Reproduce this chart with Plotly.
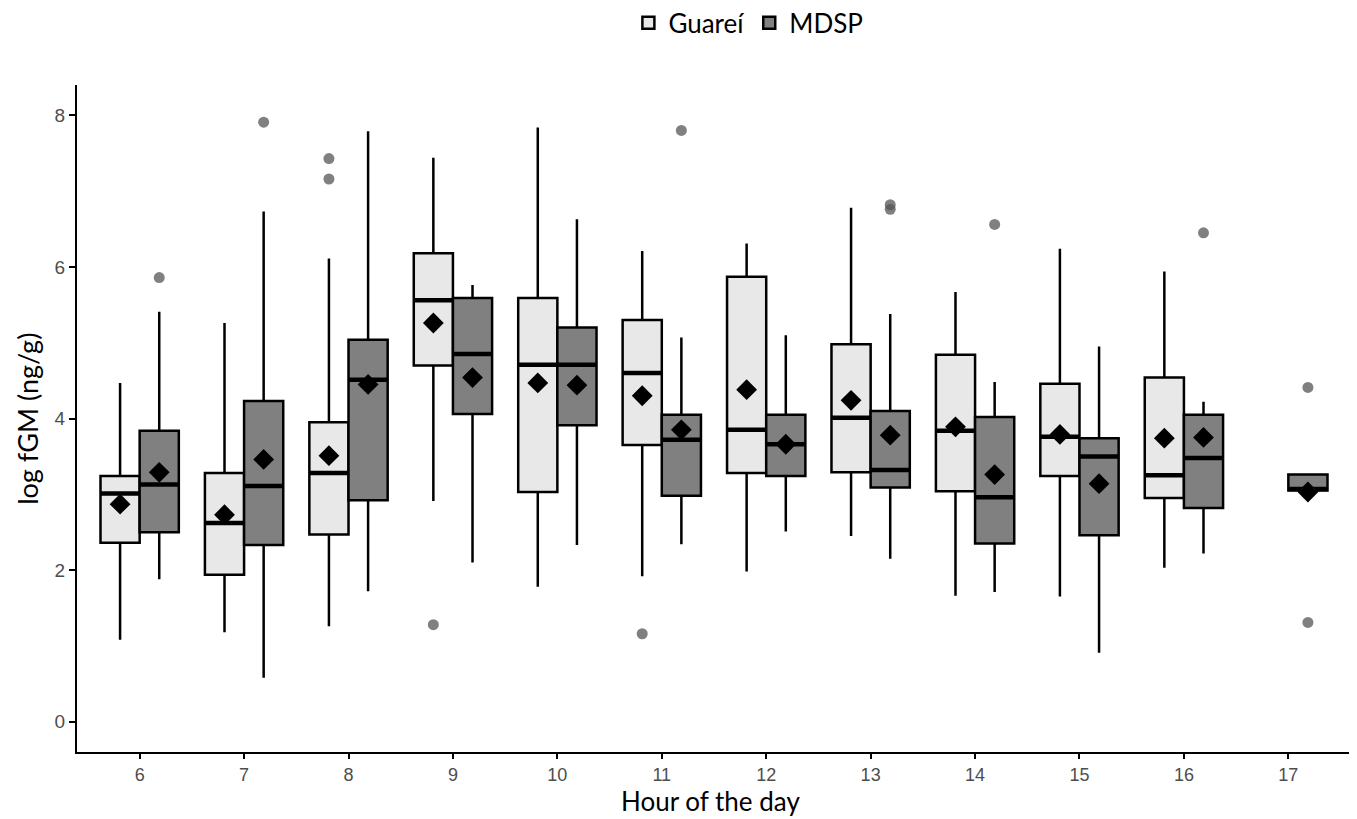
import plotly.graph_objects as go

# ---- data ----
hours_g = [6, 7, 8, 9, 10, 11, 12, 13, 14, 15, 16]
g_low = [1.08, 1.18, 1.26, 2.91, 1.78, 1.92, 1.98, 2.45, 1.66, 1.65, 2.03]
g_q1 = [2.36, 1.94, 2.47, 4.70, 3.03, 3.65, 3.28, 3.29, 3.04, 3.24, 2.95]
g_med = [3.01, 2.62, 3.28, 5.56, 4.71, 4.60, 3.85, 4.01, 3.84, 3.76, 3.25]
g_q3 = [3.24, 3.28, 3.95, 6.18, 5.59, 5.30, 5.87, 4.98, 4.84, 4.46, 4.54]
g_high = [4.47, 5.26, 6.11, 7.44, 7.84, 6.21, 6.31, 6.78, 5.67, 6.24, 5.94]
g_mean = [2.87, 2.73, 3.51, 5.26, 4.47, 4.30, 4.38, 4.24, 3.89, 3.79, 3.74]
g_out_hour = [8, 8, 9, 11]
g_out_val = [7.43, 7.16, 1.28, 1.16]

hours_m = [6, 7, 8, 9, 10, 11, 12, 13, 14, 15, 16, 17]
m_low = [1.88, 0.58, 1.72, 2.10, 2.33, 2.34, 2.51, 2.15, 1.71, 0.91, 2.22, 3.05]
m_q1 = [2.50, 2.33, 2.92, 4.06, 3.91, 2.98, 3.24, 3.09, 2.35, 2.46, 2.82, 3.05]
m_med = [3.13, 3.11, 4.51, 4.85, 4.71, 3.72, 3.66, 3.32, 2.96, 3.50, 3.48, 3.07]
m_q3 = [3.84, 4.23, 5.04, 5.59, 5.20, 4.05, 4.05, 4.10, 4.02, 3.74, 4.05, 3.26]
m_high = [5.41, 6.73, 7.79, 5.76, 6.63, 5.07, 5.10, 5.38, 4.48, 4.95, 4.22, 3.26]
m_mean = [3.29, 3.46, 4.45, 4.54, 4.44, 3.85, 3.66, 3.78, 3.26, 3.14, 3.75, 3.03]
m_out_hour = [6, 7, 11, 13, 13, 14, 16, 17, 17]
m_out_val = [5.86, 7.91, 7.80, 6.82, 6.76, 6.56, 6.45, 4.41, 1.31]

tick_hours = list(range(6, 18))

# ---- styling ----
OFF = 0.1875
BW = 0.375
FILL_G = "#e8e8e8"
FILL_M = "#808080"
TXT = "Lato, 'Open Sans', sans-serif"
TICKF = "'Liberation Sans', Arial, sans-serif"

fig = go.Figure()


def add_group(name, hours, low, q1, med, q3, high, mean, out_h, out_v, fill, sign):
    xs = [h + sign * OFF for h in hours]
    fig.add_trace(go.Box(
        name=name, x=xs, q1=q1, median=med, q3=q3,
        lowerfence=low, upperfence=high,
        width=BW, whiskerwidth=0,
        fillcolor=fill, line=dict(color="black", width=2.5),
        boxpoints=False, showlegend=True,
    ))
    # thicker median segments
    mx, my = [], []
    for x, m in zip(xs, med):
        mx += [x - BW / 2, x + BW / 2, None]
        my += [m, m, None]
    fig.add_trace(go.Scatter(x=mx, y=my, mode="lines",
                             line=dict(color="black", width=4.5),
                             showlegend=False, hoverinfo="skip"))
    # means
    fig.add_trace(go.Scatter(x=xs, y=mean, mode="markers",
                             marker=dict(symbol="diamond", size=16, color="black"),
                             showlegend=False))
    # outliers
    fig.add_trace(go.Scatter(x=[h + sign * OFF for h in out_h], y=out_v, mode="markers",
                             marker=dict(symbol="circle", size=11,
                                         color="rgba(85,85,85,0.75)"),
                             showlegend=False))


add_group("Guareí", hours_g, g_low, g_q1, g_med, g_q3, g_high, g_mean,
          g_out_hour, g_out_val, FILL_G, -1)
add_group("MDSP", hours_m, m_low, m_q1, m_med, m_q3, m_high, m_mean,
          m_out_hour, m_out_val, FILL_M, +1)

fig.update_layout(
    width=1349, height=811,
    paper_bgcolor="white", plot_bgcolor="white",
    margin=dict(l=69, r=6, t=77, b=67, autoexpand=False),
    boxmode="overlay",
    font=dict(family=TXT, color="black"),
    legend=dict(orientation="h", x=0.527, xanchor="center", y=1.093, yanchor="middle",
                font=dict(size=26, family=TXT), traceorder="normal"),
    xaxis=dict(
        range=[5.4, 17.6], tickmode="array", tickvals=tick_hours,
        ticktext=[str(h) for h in tick_hours],
        showgrid=False, zeroline=False, showline=True, linecolor="black", linewidth=2,
        ticks="outside", ticklen=5, tickwidth=1.5, tickcolor="black",
        tickfont=dict(size=18, color="#4d4d4d", family=TICKF),
        automargin=False,
    ),
    yaxis=dict(
        range=[-0.4, 8.4], tickvals=[0, 2, 4, 6, 8],
        showgrid=False, zeroline=False, showline=True, linecolor="black", linewidth=2,
        ticks="outside", ticklen=6, tickwidth=1.5, tickcolor="black",
        tickfont=dict(size=19, color="#4d4d4d", family=TICKF),
        automargin=False,
    ),
    annotations=[
        dict(text="Hour of the day", xref="paper", yref="paper", x=0.4976, y=-0.0735,
             xanchor="center", yanchor="middle", showarrow=False, borderpad=0,
             font=dict(size=26, family=TXT, color="black")),
        dict(text="log fGM (ng/g)", xref="paper", yref="paper", x=-0.039, y=0.5,
             xanchor="center", yanchor="middle", textangle=-90, showarrow=False,
             borderpad=0, font=dict(size=27, family=TXT, color="black")),
    ],
)

fig.write_html("out.html")
